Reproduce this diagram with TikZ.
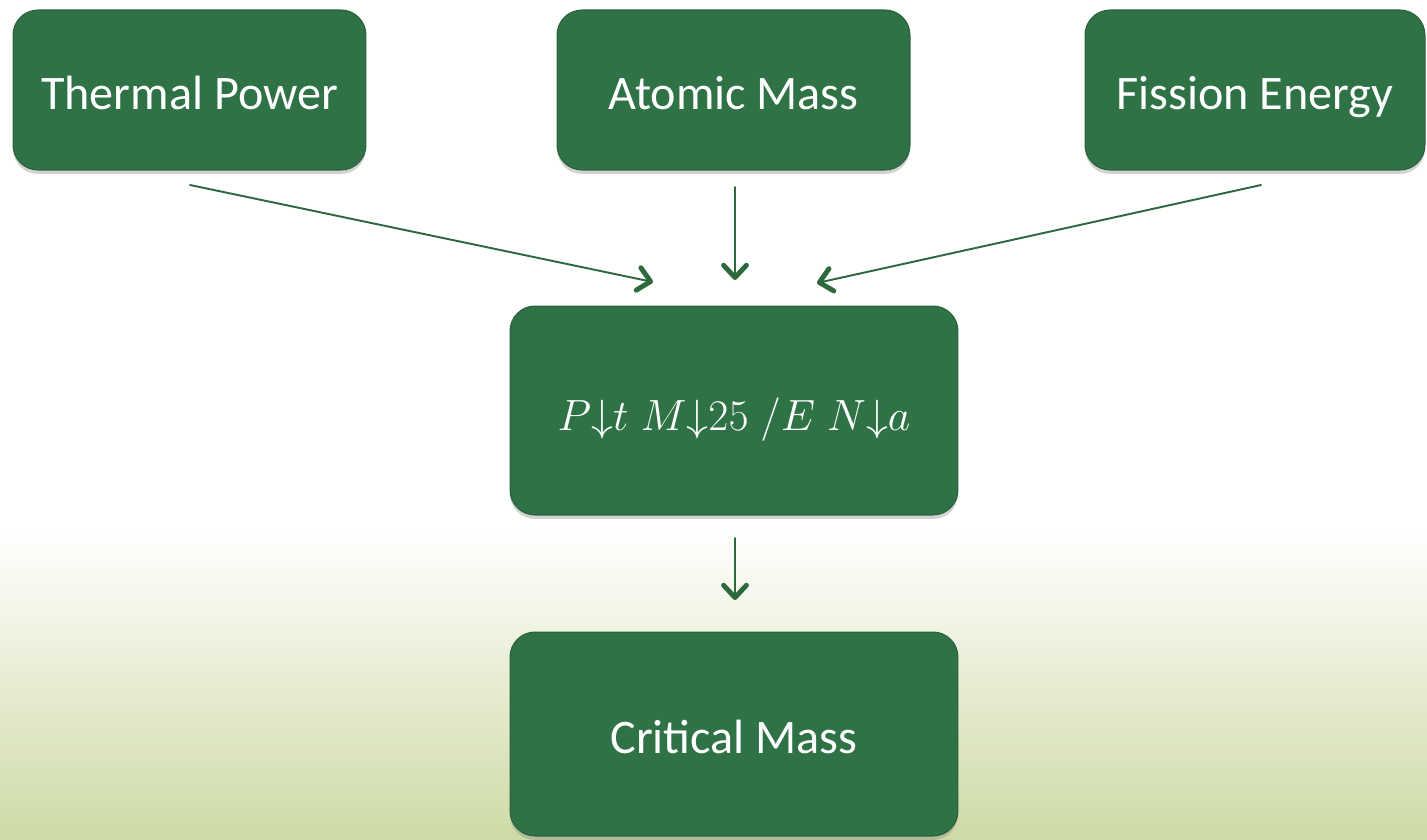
\documentclass[tikz,border=0pt]{standalone}
\usepackage{fontspec}
\setmainfont{Carlito}
\usetikzlibrary{arrows.meta,shadows}
\definecolor{boxgreen}{RGB}{47,114,70}
\definecolor{linegreen}{RGB}{44,106,62}
\definecolor{bggreen}{RGB}{206,218,166}
\tikzset{
  stepbox/.style={rectangle, rounded corners=0.5cm, fill=boxgreen, draw=boxgreen!85!black,
    line width=0.6pt, text=white, font=\fontsize{27.4}{32}\selectfont,
    text height=24pt, text depth=1.5pt,
    drop shadow={shadow xshift=0pt, shadow yshift=-0.08cm, opacity=0.35}},
  flow/.style={linegreen, line width=1.1pt,
    -{Straight Barb[length=7pt, width=13pt, line width=2.8pt, round]}}
}
\begin{document}
\begin{tikzpicture}[x=0.02cm, y=-0.02cm, line join=round, line cap=round]
\useasboundingbox (0,0) rectangle (1427,839);
\fill[white] (0,0) rectangle (1427,530);
\shade[top color=white, bottom color=bggreen] (0,530) rectangle (1427,839);
\node[stepbox, minimum width=7.06cm, minimum height=3.2cm] (power) at (189.5,90) {Thermal Power};
\node[stepbox, minimum width=7.06cm, minimum height=3.2cm] (mass) at (733.5,90) {Atomic Mass};
\node[stepbox, minimum width=6.8cm, minimum height=3.2cm] (energy) at (1255,90) {Fission Energy};
\node[stepbox, minimum width=8.96cm, minimum height=4.18cm] (formula) at (734,410.5)
  {\fontsize{30}{34}\selectfont$P{\downarrow}t\;M{\downarrow}25\;/E\;N{\downarrow}a$};
\node[stepbox, minimum width=8.96cm, minimum height=4.08cm] (critical) at (734,734) {Critical Mass};
\coordinate (p1) at (190,185);
\coordinate (p2) at (653,282);
\coordinate (m1) at (735,187);
\coordinate (m2) at (735,280);
\coordinate (e1) at (1261,185);
\coordinate (e2) at (817,283);
\coordinate (f1) at (735,538);
\coordinate (f2) at (735,600);
\draw[flow] (p1) -- (p2);
\draw[flow] (m1) -- (m2);
\draw[flow] (e1) -- (e2);
\draw[flow] (f1) -- (f2);
\end{tikzpicture}
\end{document}
